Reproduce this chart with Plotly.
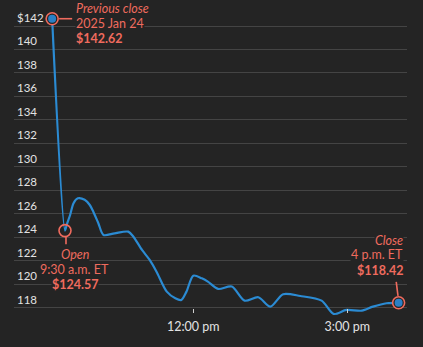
import plotly.graph_objects as go

# ---- data ----
times = [
    "2025-01-27 09:15", "2025-01-27 09:30", "2025-01-27 09:32", "2025-01-27 09:36",
    "2025-01-27 09:40", "2025-01-27 09:45", "2025-01-27 09:53", "2025-01-27 09:59",
    "2025-01-27 10:03", "2025-01-27 10:09", "2025-01-27 10:15", "2025-01-27 10:28",
    "2025-01-27 10:44", "2025-01-27 10:50", "2025-01-27 11:00", "2025-01-27 11:09",
    "2025-01-27 11:17", "2025-01-27 11:29", "2025-01-27 11:39", "2025-01-27 11:46",
    "2025-01-27 11:52", "2025-01-27 12:00", "2025-01-27 12:10", "2025-01-27 12:17",
    "2025-01-27 12:29", "2025-01-27 12:45", "2025-01-27 13:00", "2025-01-27 13:16",
    "2025-01-27 13:30", "2025-01-27 13:45", "2025-01-27 14:05", "2025-01-27 14:30",
    "2025-01-27 14:44", "2025-01-27 14:59", "2025-01-27 15:17", "2025-01-27 15:30",
    "2025-01-27 15:46", "2025-01-27 16:00",
]
prices = [
    142.62, 124.57, 125.05, 125.90,
    126.90, 127.32, 127.20, 126.75,
    126.20, 125.20, 124.20, 124.34,
    124.48, 124.05, 122.92, 122.07,
    121.07, 119.37, 118.80, 118.66,
    119.37, 120.73, 120.50, 120.22,
    119.60, 119.80, 118.60, 118.89,
    118.09, 119.15, 119.00, 118.60,
    117.47, 117.81, 117.75, 118.09,
    118.38, 118.42,
]

y_ticks = [118, 120, 122, 124, 126, 128, 130, 132, 134, 136, 138, 140, 142]
y_tick_text = [str(v) for v in y_ticks[:-1]] + ["$142"]
x_ticks = ["2025-01-27 12:00", "2025-01-27 15:00"]
x_tick_text = ["12:00 pm", "3:00 pm"]

prev_close = ("2025-01-27 09:15", 142.62, ["<i>Previous close</i>", "2025 Jan 24", "<b>$142.62</b>"])
open_pt = ("2025-01-27 09:30", 124.57, ["<i>Open</i>", "9:30 a.m. ET", "<b>$124.57</b>"])
close_pt = ("2025-01-27 16:00", 118.42, ["<i>Close</i>", "4 p.m. ET", "<b>$118.42</b>"])

BG = "#242424"
GRID = "#444444"
BLUE = "#2b8bd3"
DOT = "#2a80c6"
SALMON = "#ef6b5e"
TXT = "#e2e2e2"
FONT = "Lato"

fig = go.Figure()
fig.add_trace(go.Scatter(
    x=times, y=prices, mode="lines",
    line=dict(color=BLUE, width=2.2, shape="spline", smoothing=0.8),
    hoverinfo="skip", showlegend=False,
))
# rings with blue dot (previous close, close)
fig.add_trace(go.Scatter(
    x=[prev_close[0], close_pt[0]], y=[prev_close[1], close_pt[1]], mode="markers",
    marker=dict(size=12, color=BG, line=dict(color=SALMON, width=1.6)),
    hoverinfo="skip", showlegend=False,
))
fig.add_trace(go.Scatter(
    x=[prev_close[0], close_pt[0]], y=[prev_close[1], close_pt[1]], mode="markers",
    marker=dict(size=8, color=DOT),
    hoverinfo="skip", showlegend=False,
))
# open ring (hollow)
fig.add_trace(go.Scatter(
    x=[open_pt[0]], y=[open_pt[1]], mode="markers",
    marker=dict(size=12, symbol="circle-open", color=SALMON, line=dict(color=SALMON, width=1.6)),
    hoverinfo="skip", showlegend=False,
))

def label(pt, lines, xanchor, xshift, yshifts, size=12.5):
    for txt, ys in zip(lines, yshifts):
        fig.add_annotation(
            x=pt[0], y=pt[1], xref="x", yref="y", text=txt, showarrow=False,
            xanchor=xanchor, yanchor="middle", xshift=xshift, yshift=ys,
            font=dict(family=FONT, size=size, color=SALMON),
            bgcolor=BG, borderpad=0,
        )

label(prev_close, prev_close[2], "left", 23, [10.7, -4.3, -19.3])
label(open_pt, open_pt[2], "center", 10, [-24.3, -39.3, -54.3])
label(close_pt, close_pt[2], "right", 5, [62.7, 48.4, 32.7])

def leader(pt, x0, y0, x1, y1):
    fig.add_shape(
        type="line", xref="x", yref="y", xsizemode="pixel", ysizemode="pixel",
        xanchor=pt[0], yanchor=pt[1], x0=x0, y0=y0, x1=x1, y1=y1,
        line=dict(color=SALMON, width=1.6), layer="above",
    )

leader(prev_close, 7, 0, 20, 0)
leader(open_pt, 1, -6.5, 1, -13.6)
leader(close_pt, -2.4, 21, -0.6, 7)

fig.update_layout(
    width=423, height=347,
    margin=dict(l=14, r=16, t=5, b=29),
    paper_bgcolor=BG, plot_bgcolor=BG,
    font=dict(family=FONT, color=TXT),
    showlegend=False,
    xaxis=dict(
        type="date",
        range=["2025-01-27 08:30:24", "2025-01-27 16:09:48"],
        tickvals=x_ticks, ticktext=x_tick_text,
        showgrid=False, zeroline=False, showline=False,
        ticks="outside", ticklen=4, tickwidth=1, tickcolor="#cfcfcf",
        tickfont=dict(family=FONT, size=12.5, color=TXT),
        anchor="free", position=0.0329, automargin=False,
        ticklabelstandoff=3,
    ),
    yaxis=dict(
        range=[117.123, 143.789],
        tickvals=y_ticks, ticktext=y_tick_text,
        showgrid=True, gridcolor=GRID, gridwidth=1.2,
        zeroline=False, showline=False, ticks="",
        ticklabelposition="inside top",
        tickfont=dict(family=FONT, size=11.5, color=TXT),
        automargin=False,
    ),
)

fig.write_html("out.html")
